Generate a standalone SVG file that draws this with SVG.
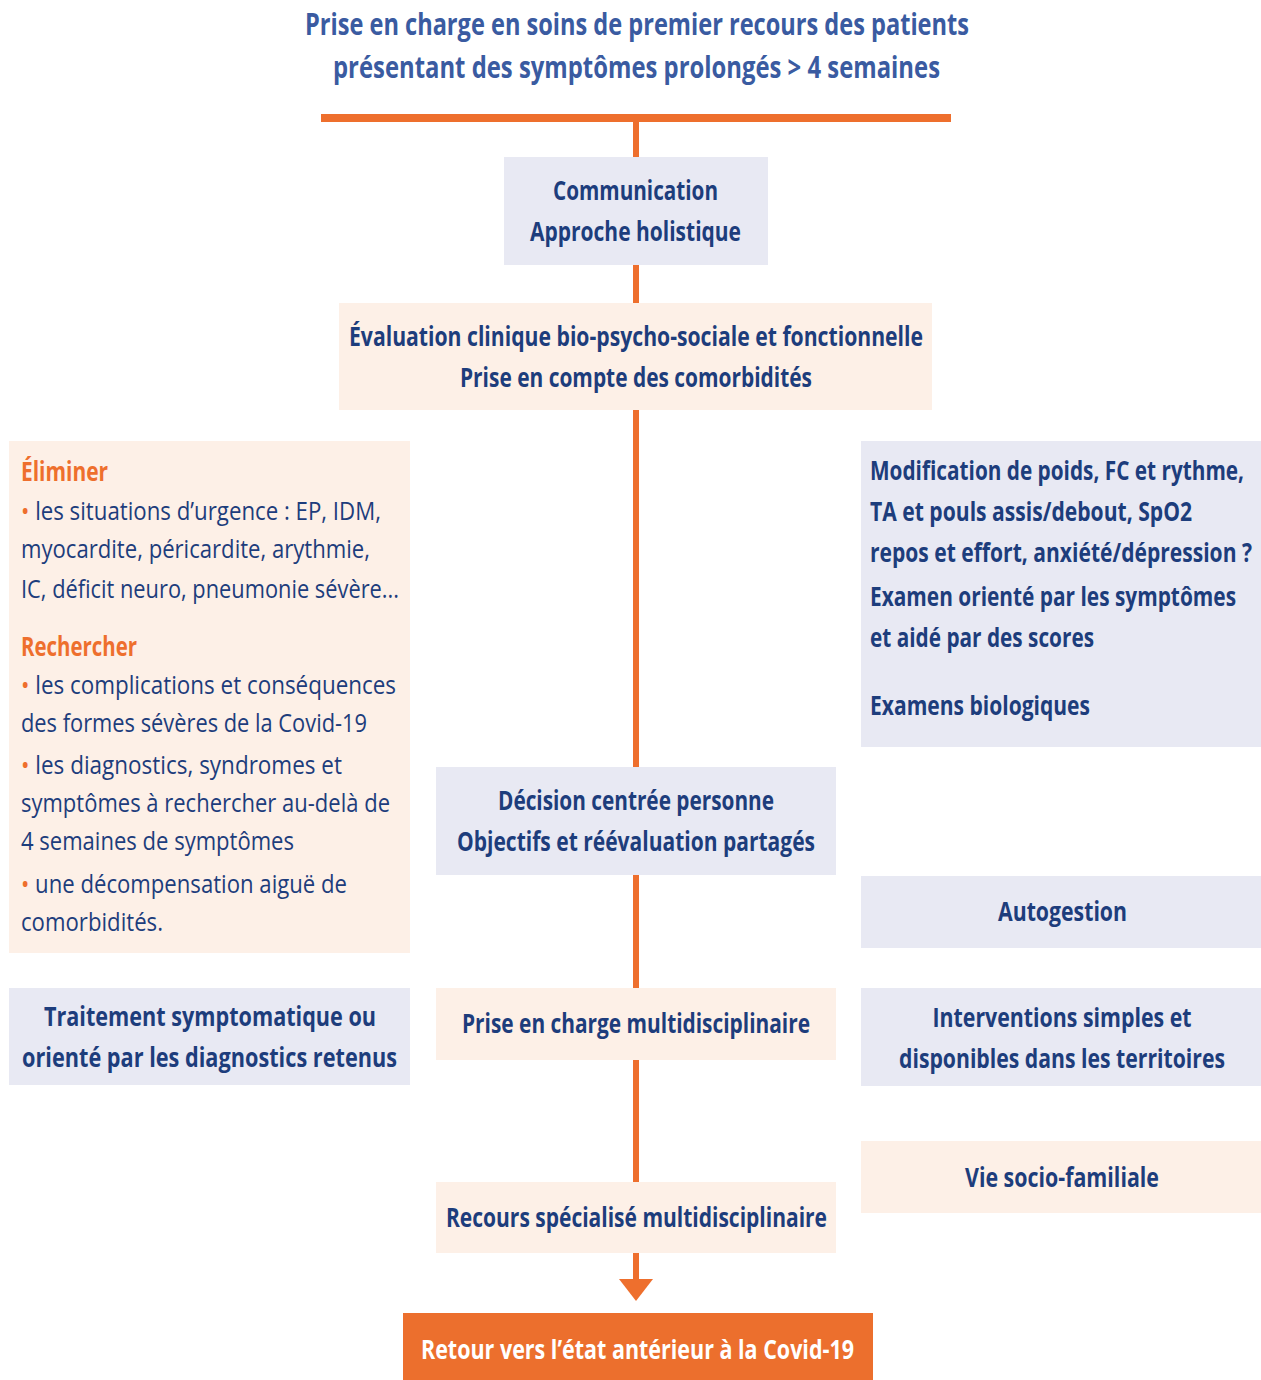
<svg xmlns="http://www.w3.org/2000/svg" width="1261" height="1380" viewBox="0 0 1261 1380">
<style>
text{font-family:"Open Sans","Noto Sans","Liberation Sans",sans-serif;}
.t{font-size:30px;font-weight:700;fill:#3a5ba1;text-anchor:middle;}
.b{font-size:26px;font-weight:700;fill:#1d3d7c;}
.c{text-anchor:middle;}
.r{font-size:26px;font-weight:400;fill:#1d3d7c;}
.o{font-size:26px;font-weight:700;fill:#ee6f2d;}
.w{font-size:27px;font-weight:700;fill:#ffffff;text-anchor:middle;}
.bl{fill:#ee6f2d;}
.blue{fill:#e8e9f3;}
.peach{fill:#fdf0e7;}
.line{stroke:#ee6f2d;stroke-width:6;fill:none;}
</style>
<rect width="1261" height="1380" fill="#ffffff"/>
<g id="title">
<text class="t" x="637" y="35" textLength="664" lengthAdjust="spacingAndGlyphs">Prise en charge en soins de premier recours des patients</text>
<text class="t" x="636.5" y="78" textLength="607" lengthAdjust="spacingAndGlyphs">présentant des symptômes prolongés &gt; 4 semaines</text>
</g>
<g id="connectors">
<rect x="321" y="114" width="630" height="8" fill="#ee6f2d"/>
<line class="line" x1="636" y1="120" x2="636" y2="1282"/>
<polygon points="619,1279 653,1279 636,1301" fill="#ee6f2d"/>
</g>
<g id="communication">
<rect class="blue" x="504" y="157" width="264" height="108"/>
<text class="b c" x="635.5" y="200" textLength="165" lengthAdjust="spacingAndGlyphs">Communication</text>
<text class="b c" x="635.5" y="241" textLength="211" lengthAdjust="spacingAndGlyphs">Approche holistique</text>
</g>
<g id="evaluation">
<rect class="peach" x="339" y="303" width="593" height="107"/>
<text class="b c" x="636" y="346" textLength="574" lengthAdjust="spacingAndGlyphs">Évaluation clinique bio-psycho-sociale et fonctionnelle</text>
<text class="b c" x="636" y="387" textLength="352" lengthAdjust="spacingAndGlyphs">Prise en compte des comorbidités</text>
</g>
<g id="eliminer-rechercher">
<rect class="peach" x="9" y="441" width="401" height="512"/>
<text class="o" x="21" y="481" textLength="87" lengthAdjust="spacingAndGlyphs">Éliminer</text>
<text class="r" x="21" y="520" textLength="360" lengthAdjust="spacingAndGlyphs"><tspan class="bl">•</tspan> les situations d’urgence : EP, IDM,</text>
<text class="r" x="21" y="558" textLength="349" lengthAdjust="spacingAndGlyphs">myocardite, péricardite, arythmie,</text>
<text class="r" x="21" y="598" textLength="378" lengthAdjust="spacingAndGlyphs">IC, déficit neuro, pneumonie sévère...</text>
<text class="o" x="21" y="656" textLength="116" lengthAdjust="spacingAndGlyphs">Rechercher</text>
<text class="r" x="21" y="694" textLength="375" lengthAdjust="spacingAndGlyphs"><tspan class="bl">•</tspan> les complications et conséquences</text>
<text class="r" x="21" y="732" textLength="346" lengthAdjust="spacingAndGlyphs">des formes sévères de la Covid-19</text>
<text class="r" x="21" y="774" textLength="321" lengthAdjust="spacingAndGlyphs"><tspan class="bl">•</tspan> les diagnostics, syndromes et</text>
<text class="r" x="21" y="812" textLength="369" lengthAdjust="spacingAndGlyphs">symptômes à rechercher au-delà de</text>
<text class="r" x="21" y="850" textLength="273" lengthAdjust="spacingAndGlyphs">4 semaines de symptômes</text>
<text class="r" x="21" y="893" textLength="326" lengthAdjust="spacingAndGlyphs"><tspan class="bl">•</tspan> une décompensation aiguë de</text>
<text class="r" x="21" y="931" textLength="142" lengthAdjust="spacingAndGlyphs">comorbidités.</text>
</g>
<g id="examens">
<rect class="blue" x="861" y="441" width="400" height="306"/>
<g transform="matrix(0.8,0,0,1,870,0)">
<text class="b" x="0" y="480" textLength="467.5" lengthAdjust="spacingAndGlyphs">Modification de poids, FC et rythme,</text>
<text class="b" x="0" y="521" textLength="402.5" lengthAdjust="spacingAndGlyphs">TA et pouls assis/debout, SpO2</text>
<text class="b" x="0" y="562" textLength="477.5" lengthAdjust="spacingAndGlyphs">repos et effort, anxiété/dépression ?</text>
<text class="b" x="0" y="606" textLength="457.5" lengthAdjust="spacingAndGlyphs">Examen orienté par les symptômes</text>
<text class="b" x="0" y="647" textLength="280" lengthAdjust="spacingAndGlyphs">et aidé par des scores</text>
<text class="b" x="0" y="715" textLength="275" lengthAdjust="spacingAndGlyphs">Examens biologiques</text>
</g>
</g>
<g id="decision">
<rect class="blue" x="436" y="767" width="400" height="108"/>
<text class="b c" x="636" y="810" textLength="276" lengthAdjust="spacingAndGlyphs">Décision centrée personne</text>
<text class="b c" x="636" y="851" textLength="358" lengthAdjust="spacingAndGlyphs">Objectifs et réévaluation partagés</text>
</g>
<g id="autogestion">
<rect class="blue" x="861" y="876" width="400" height="72"/>
<text class="b c" x="1062.5" y="921" textLength="129" lengthAdjust="spacingAndGlyphs">Autogestion</text>
</g>
<g id="traitement">
<rect class="blue" x="9" y="988" width="401" height="97"/>
<text class="b c" x="210" y="1026" textLength="332" lengthAdjust="spacingAndGlyphs">Traitement symptomatique ou</text>
<text class="b c" x="209.5" y="1067" textLength="375" lengthAdjust="spacingAndGlyphs">orienté par les diagnostics retenus</text>
</g>
<g id="prise-en-charge">
<rect class="peach" x="436" y="988" width="400" height="72"/>
<text class="b c" x="636" y="1033" textLength="348" lengthAdjust="spacingAndGlyphs">Prise en charge multidisciplinaire</text>
</g>
<g id="interventions">
<rect class="blue" x="861" y="988" width="400" height="98"/>
<g transform="matrix(0.8,0,0,1,1062,0)">
<text class="b c" x="0" y="1027" textLength="323.75" lengthAdjust="spacingAndGlyphs">Interventions simples et</text>
<text class="b c" x="0" y="1068" textLength="407.5" lengthAdjust="spacingAndGlyphs">disponibles dans les territoires</text>
</g>
</g>
<g id="vie-socio-familiale">
<rect class="peach" x="861" y="1141" width="400" height="72"/>
<text class="b c" x="1062" y="1187" textLength="194" lengthAdjust="spacingAndGlyphs">Vie socio-familiale</text>
</g>
<g id="recours">
<rect class="peach" x="436" y="1182" width="400" height="71"/>
<text class="b c" x="636.5" y="1227" textLength="381" lengthAdjust="spacingAndGlyphs">Recours spécialisé multidisciplinaire</text>
</g>
<g id="retour">
<rect x="403" y="1313" width="470" height="67" fill="#ec6f2d"/>
<text class="w" x="637.5" y="1359" textLength="433" lengthAdjust="spacingAndGlyphs">Retour vers l’état antérieur à la Covid-19</text>
</g>
</svg>
